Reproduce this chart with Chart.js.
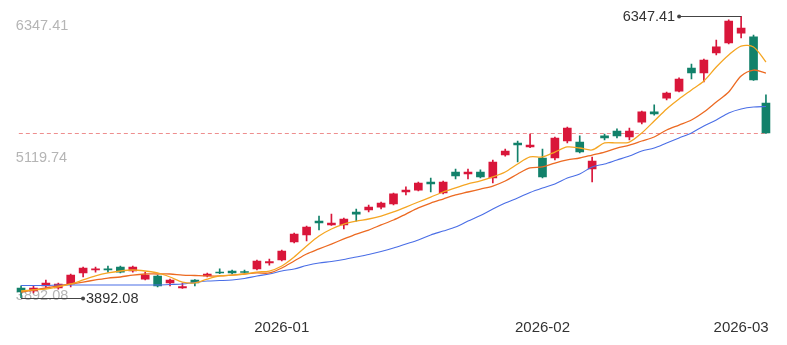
<!DOCTYPE html>
<html>
<head>
<meta charset="utf-8">
<script src="https://cdn.jsdelivr.net/npm/chart.js@4.4.1/dist/chart.umd.min.js"></script>
<style>
  html, body { margin: 0; padding: 0; background: #fff; }
  #wrap { width: 787px; height: 345px; }
</style>
</head>
<body>
<div id="wrap"><canvas id="kline" width="787" height="345"></canvas></div>
<script>
// daily candles
const opens = [3979, 3953, 3997, 3979, 4014, 4110, 4136, 4145, 4162, 4127,
  4057, 4084, 4023, 3979, 4049, 4084, 4118, 4127, 4118, 4145,
  4197, 4223, 4380, 4441, 4562, 4528, 4528, 4641, 4658, 4684,
  4711, 4815, 4832, 4902, 4806, 4989, 4972, 4989, 4937, 5137,
  5242, 5207, 5111, 5111, 5259, 5250, 5015, 5303, 5346, 5294,
  5424, 5512, 5633, 5694, 5895, 5851, 6025, 6112, 6199, 6165, 5590];
const closes = [3944, 3979, 4023, 4014, 4092, 4153, 4145, 4136, 4118, 4162,
  4092, 3997, 4049, 3992, 4023, 4101, 4110, 4110, 4114, 4214,
  4210, 4301, 4449, 4510, 4545, 4545, 4580, 4623, 4684, 4719,
  4798, 4832, 4893, 4885, 4902, 4954, 4989, 4946, 5076, 5172,
  5224, 5224, 4946, 5285, 5372, 5163, 5085, 5285, 5303, 5346,
  5512, 5494, 5677, 5799, 5851, 5964, 6078, 6304, 6243, 5790, 5329];
const highs = [3997, 3997, 4049, 4023, 4101, 4162, 4162, 4171, 4171, 4171,
  4118, 4092, 4057, 4023, 4053, 4110, 4145, 4136, 4136, 4223,
  4232, 4310, 4458, 4519, 4606, 4623, 4589, 4667, 4702, 4728,
  4806, 4859, 4902, 4937, 4911, 5015, 5015, 5007, 5094, 5189,
  5259, 5320, 5189, 5294, 5381, 5303, 5120, 5320, 5364, 5372,
  5520, 5573, 5686, 5808, 5929, 5973, 6138, 6313, 6347.41, 6182, 5660];
const lows = [3892.08, 3936, 3979, 3970, 3988, 4075, 4118, 4118, 4110, 4118,
  4049, 3988, 3997, 3975, 3997, 4075, 4105, 4101, 4110, 4136,
  4179, 4214, 4371, 4388, 4484, 4523, 4493, 4562, 4641, 4667,
  4702, 4789, 4824, 4815, 4798, 4928, 4928, 4937, 4893, 5128,
  5076, 5202, 4937, 5094, 5242, 5155, 4902, 5268, 5285, 5268,
  5407, 5485, 5616, 5686, 5799, 5773, 6008, 6104, 6156, 5786, 5324];

// moving averages as drawn
const ma5 = [3953, 3962, 3970, 3988, 4014, 4049, 4084, 4110, 4127, 4136,
  4127, 4110, 4075, 4031, 4023, 4057, 4084, 4092, 4101, 4118,
  4127, 4171, 4249, 4345, 4432, 4493, 4536, 4562, 4580, 4606,
  4641, 4684, 4728, 4771, 4815, 4850, 4885, 4911, 4946, 4989,
  5059, 5120, 5120, 5163, 5207, 5198, 5181, 5242, 5242, 5250,
  5329, 5433, 5538, 5625, 5703, 5781, 5903, 6008, 6086, 6078, 5947];
const ma10 = [3944, 3962, 3979, 3997, 4014, 4031, 4049, 4066, 4075, 4092,
  4101, 4101, 4101, 4092, 4088, 4084, 4084, 4092, 4101, 4110,
  4110, 4153, 4214, 4275, 4319, 4362, 4406, 4449, 4484, 4528,
  4571, 4623, 4676, 4719, 4754, 4789, 4815, 4841, 4867, 4911,
  4972, 5024, 5033, 5067, 5094, 5111, 5137, 5163, 5198, 5224,
  5259, 5294, 5355, 5398, 5442, 5512, 5599, 5686, 5825, 5877, 5851];
const ma20 = [4001, 4001, 4001, 4005, 4005, 4005, 4005, 4005, 4005, 4005,
  4005, 4005, 4010, 4014, 4027, 4040, 4044, 4049, 4062, 4084,
  4101, 4127, 4145, 4175, 4197, 4210, 4227, 4249, 4271, 4297,
  4327, 4362, 4397, 4441, 4475, 4510, 4562, 4610, 4667, 4719,
  4763, 4811, 4850, 4885, 4937, 4972, 5033, 5059, 5094, 5128,
  5172, 5198, 5242, 5285, 5329, 5390, 5442, 5503, 5538, 5555, 5559];

// month tick labels: index of first candle of each month
const monthIdx = [21, 42, 58];
const monthLabels = ['2026-01', '2026-02', '2026-03'];

const categories = closes.map((c, i) => i);

const upColor = '#d9163a';
const downColor = '#12816a';
const candleColors = closes.map((c, i) => c >= opens[i] ? upColor : downColor);

const yMax = Math.max(...highs);
const yMin = Math.min(...lows);
const yMid = (yMax + yMin) / 2;
const FONT = '"Liberation Sans", Arial, sans-serif';

const overlay = {
    id: 'overlay',
    beforeDatasetsDraw(chart) {
        const { ctx, chartArea, scales: { y } } = chart;
        ctx.save();
        // axis value labels (min / mid / max)
        ctx.font = '14.5px ' + FONT;
        ctx.fillStyle = '#b5b5b5';
        ctx.textAlign = 'left';
        ctx.textBaseline = 'alphabetic';
        ctx.fillText(yMax.toFixed(2), chartArea.left + 1, y.getPixelForValue(yMax) + 14);
        ctx.fillText(yMid.toFixed(2), chartArea.left + 1, y.getPixelForValue(yMid) + 5);
        ctx.fillText(yMin.toFixed(2), chartArea.left + 1, y.getPixelForValue(yMin) + 2);

        // last close dashed line
        const last = closes[closes.length - 1];
        const yc = Math.round(y.getPixelForValue(last)) + 0.5;
        ctx.strokeStyle = '#ee8e8e';
        ctx.lineWidth = 1;
        ctx.setLineDash([4, 3]);
        ctx.beginPath();
        ctx.moveTo(chartArea.left + 4, yc);
        ctx.lineTo(chartArea.right - 4, yc);
        ctx.stroke();
        ctx.restore();
    },
    afterDatasetsDraw(chart) {
        const { ctx, scales: { x, y } } = chart;
        const iMax = highs.indexOf(yMax);
        const iMin = lows.indexOf(yMin);
        ctx.save();
        ctx.font = '14.5px ' + FONT;
        ctx.strokeStyle = '#444';
        ctx.lineWidth = 1;
        ctx.textBaseline = 'middle';

        // highest
        let px = x.getPixelForValue(iMax);
        let py = Math.round(y.getPixelForValue(yMax)) + 0.5;
        ctx.beginPath();
        ctx.moveTo(px, py);
        ctx.lineTo(px - 62, py);
        ctx.stroke();
        ctx.beginPath();
        ctx.arc(px - 62, py, 2, 0, Math.PI * 2);
        ctx.fillStyle = '#444';
        ctx.fill();
        ctx.fillStyle = '#333';
        ctx.textAlign = 'right';
        ctx.fillText(yMax.toFixed(2), px - 66, py);

        // lowest
        px = x.getPixelForValue(iMin);
        py = Math.round(y.getPixelForValue(yMin)) + 0.5;
        ctx.beginPath();
        ctx.moveTo(px, py);
        ctx.lineTo(px + 62, py);
        ctx.stroke();
        ctx.beginPath();
        ctx.arc(px + 62, py, 2, 0, Math.PI * 2);
        ctx.fillStyle = '#444';
        ctx.fill();
        ctx.fillStyle = '#333';
        ctx.textAlign = 'left';
        ctx.fillText(yMin.toFixed(2), px + 65, py);
        ctx.restore();
    }
};

function maLine(label, data, color, width) {
    return {
        type: 'line',
        label: label,
        data: data,
        borderColor: color,
        borderWidth: width,
        pointRadius: 0,
        tension: 0.3,
        fill: false,
        order: 0
    };
}

const chart = new Chart(document.getElementById('kline'), {
    type: 'bar',
    data: {
        labels: categories,
        datasets: [
            maLine('MA5', ma5, '#f5a623', 1.3),
            maLine('MA10', ma10, '#ec6a22', 1.3),
            maLine('MA20', ma20, '#4a6ee6', 1.1),
            {
                label: 'body',
                data: opens.map((o, i) => [o, closes[i]]),
                backgroundColor: candleColors,
                barThickness: 8,
                minBarLength: 1,
                grouped: false,
                order: 1
            },
            {
                label: 'wick',
                data: lows.map((l, i) => [l, highs[i]]),
                backgroundColor: candleColors,
                barThickness: 1,
                grouped: false,
                order: 2
            }
        ]
    },
    options: {
        responsive: false,
        animation: false,
        layout: { padding: { left: 10, right: 11, top: 16, bottom: 8 } },
        plugins: {
            legend: { display: false },
            tooltip: { enabled: false }
        },
        scales: {
            x: {
                offset: true,
                grid: { display: false, drawTicks: false },
                border: { display: false },
                afterFit: function (scale) {
                    scale.height = 39;
                },
                ticks: {
                    autoSkip: false,
                    maxRotation: 0,
                    padding: 21,
                    color: '#333',
                    font: { family: FONT, size: 15 },
                    callback: function (val, idx) {
                        const k = monthIdx.indexOf(idx);
                        return k >= 0 ? monthLabels[k] : '';
                    }
                }
            },
            y: {
                display: false,
                min: yMin,
                max: yMax
            }
        }
    },
    plugins: [overlay]
});
</script>
</body>
</html>
